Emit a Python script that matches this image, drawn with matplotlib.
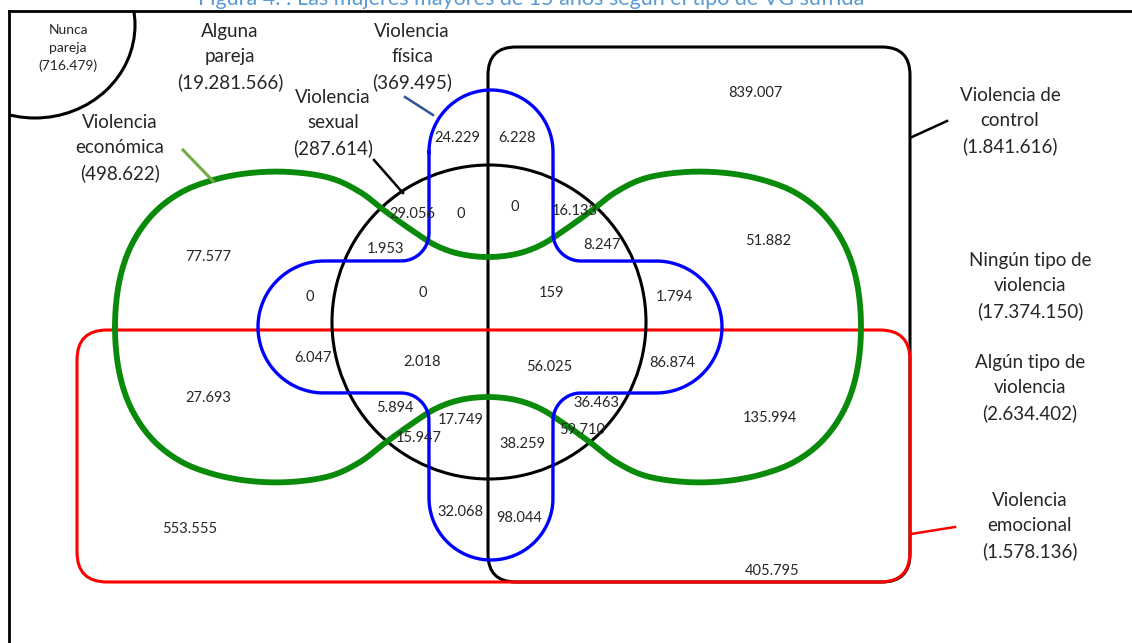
import numpy as np
import matplotlib
matplotlib.use("Agg")
import matplotlib.pyplot as plt
from matplotlib.patches import Circle, Ellipse, FancyBboxPatch, Rectangle

plt.rcParams["font.family"] = ["Lato", "DejaVu Sans"]

# ── Data ─────────────────────────────────────────────────────────────────────
TITLE = "Figura 4. : Las mujeres mayores de 15 años según el tipo de VG sufrida ¹"

set_names = ["Nunca\npareja", "Alguna\npareja", "Violencia\nfísica", "Violencia\nsexual",
             "Violencia\neconómica", "Violencia de\ncontrol", "Ningún tipo de\nviolencia",
             "Algún tipo de\nviolencia", "Violencia\nemocional"]
set_totals = ["716.479", "19.281.566", "369.495", "287.614", "498.622",
              "1.841.616", "17.374.150", "2.634.402", "1.578.136"]

region_values = ["839.007", "77.577", "24.229", "6.228", "29.056", "0", "0", "16.133",
                 "1.953", "8.247", "51.882", "0", "0", "159", "1.794", "6.047", "2.018",
                 "56.025", "86.874", "27.693", "5.894", "17.749", "15.947", "36.463",
                 "59.710", "38.259", "135.994", "32.068", "98.044", "553.555", "405.795"]

# ── Layout (pixel coordinates, y downwards) ──────────────────────────────────
set_label_pos = [(68, 48), (230, 57), (412, 57), (333, 123), (120, 148),
                 (1010, 121), (1030, 286), (1030, 388), (1030, 526)]
set_label_size = [10, 13.5, 13.5, 13.5, 13.5, 13.5, 13.5, 13.5, 13.5]

region_pos = [(755, 93), (208, 257), (457, 138), (517, 138), (412, 214), (461, 214),
              (515, 207), (575, 211), (385, 249), (602, 245), (768, 241), (310, 297),
              (423, 293), (552, 293), (674, 297), (313, 358), (422, 362), (549, 367),
              (672, 363), (208, 398), (395, 408), (461, 420), (419, 438), (596, 403),
              (582, 430), (522, 444), (770, 418), (460, 512), (519, 518), (190, 529),
              (772, 571)]

W, H = 1132, 643
BLACK, RED, GREEN, BLUE = "black", "#ff0000", "#0a8a0a", "#0000ff"
TEXT = "#262626"


def arc(c, r, t0, t1, n=60):
    t = np.radians(np.linspace(t0, t1, n))
    return np.column_stack([c[0] + r * np.cos(t), c[1] + r * np.sin(t)])


def catmull_closed(pts, n=20):
    P = np.asarray(pts, float)
    m = len(P)
    t = np.linspace(0, 1, n, endpoint=False)[:, None]
    out = []
    for i in range(m):
        p0, p1, p2, p3 = P[i - 1], P[i], P[(i + 1) % m], P[(i + 2) % m]
        out.append(0.5 * (2 * p1 + (-p0 + p2) * t + (2 * p0 - 5 * p1 + 4 * p2 - p3) * t ** 2
                          + (-p0 + 3 * p1 - 3 * p2 + p3) * t ** 3))
    out = np.vstack(out)
    return np.vstack([out, out[:1]])


def blue_outline():
    # plus-shaped region with rounded arm ends and concave inner corners
    xl, xr, yt, yb, R = 429, 553, 261, 393, 28
    segs = [
        arc((491, 152), 62, 180, 360),
        arc((xr + R, yt - R), R, 180, 90, 20),
        arc((656, 327), 66, 270, 450),
        arc((xr + R, yb + R), R, 270, 180, 20),
        arc((491, 498), 62, 0, 180),
        arc((xl - R, yb + R), R, 0, -90, 20),
        arc((324, 327), 66, 90, 270),
        arc((xl - R, yt - R), R, 90, 0, 20),
    ]
    pts = np.vstack(segs)
    return np.vstack([pts, pts[:1]])


def green_outline():
    top_left = [(115, 327), (119, 283), (131, 246), (152, 215), (180, 193), (213, 180),
                (250, 173), (290, 172), (330, 178), (360, 192), (385, 211), (410, 229),
                (435, 245), (460, 254)]
    cx, cy = 488, 327
    top = top_left + [(cx, 257)] + [(2 * cx - x, y) for x, y in reversed(top_left)]
    bottom = [(x, 2 * cy - y) for x, y in reversed(top[1:-1])]
    return catmull_closed(top + bottom)


fig = plt.figure(figsize=(W / 100, H / 100), dpi=100)
ax = fig.add_axes([0, 0, 1, 1])
ax.set_xlim(0, W)
ax.set_ylim(H, 0)
ax.axis("off")

# title (mostly cut off at the top edge, as in the source)
ax.text(537, 5, TITLE, ha="center", va="baseline", fontsize=15.5, color="#5b9bd5")

# outer frame
ax.plot([9, W], [11, 11], color=BLACK, lw=2)
ax.plot([9, 9], [11, H], color=BLACK, lw=2)

frame_clip = Rectangle((9, 11), W, H, transform=ax.transData)
nunca = Ellipse((35, 25), 200, 186, fill=False, ec=BLACK, lw=2.2)
ax.add_patch(nunca)
nunca.set_clip_path(frame_clip)

# violencia de control (black box) and violencia emocional (red box)
ax.add_patch(FancyBboxPatch((488, 47), 422, 535, boxstyle="round,pad=0,rounding_size=28",
                            fill=False, ec=BLACK, lw=2.2))
ax.add_patch(FancyBboxPatch((77, 330), 833, 252, boxstyle="round,pad=0,rounding_size=30",
                            fill=False, ec=RED, lw=2.2))

# violencia sexual (black circle)
ax.add_patch(Circle((489, 322), 157, fill=False, ec=BLACK, lw=2.2))

g = green_outline()
ax.plot(g[:, 0], g[:, 1], color=GREEN, lw=4.2, solid_joinstyle="round")
b = blue_outline()
ax.plot(b[:, 0], b[:, 1], color=BLUE, lw=2.4, solid_joinstyle="round")

# pointer lines
ax.plot([405, 433], [97, 115], color="#2f5597", lw=1.8)
ax.plot([374, 403], [160, 193], color=BLACK, lw=1.8)
ax.plot([183, 213], [150, 181], color="#70ad47", lw=2.2)
ax.plot([912, 947], [137, 121], color=BLACK, lw=1.8)
ax.plot([911, 955], [534, 527], color=RED, lw=1.8)

for name, total, (x, y), fs in zip(set_names, set_totals, set_label_pos, set_label_size):
    ax.text(x, y, f"{name}\n({total})", ha="center", va="center", fontsize=fs,
            color=TEXT, linespacing=1.55)

for val, (x, y) in zip(region_values, region_pos):
    ax.text(x, y, val, ha="center", va="center", fontsize=10.5, color=TEXT)

fig.savefig("out.png", dpi=100)
